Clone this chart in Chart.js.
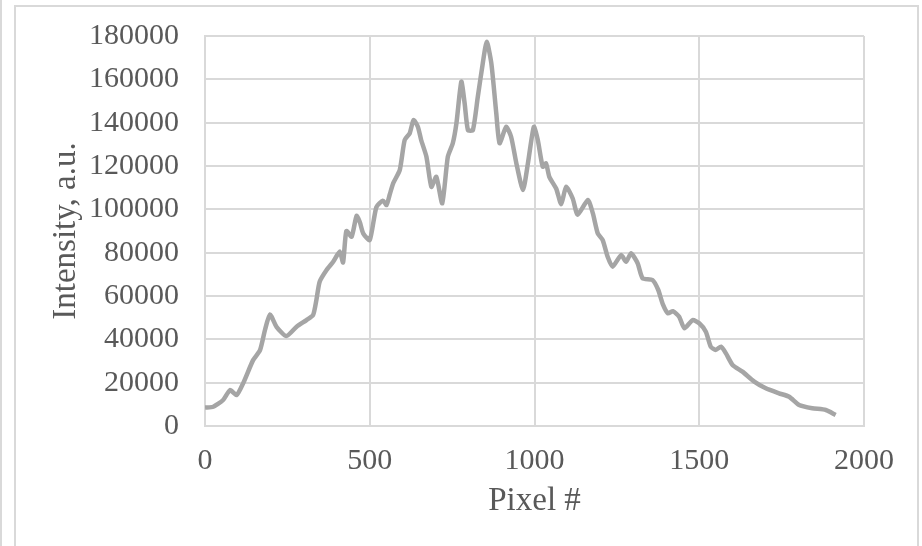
<!DOCTYPE html>
<html>
<head>
<meta charset="utf-8">
<script src="https://cdn.jsdelivr.net/npm/chart.js@4.4.1/dist/chart.umd.min.js"></script>
<style>
  body { margin: 0; background: #fff; }
  #wrap { position: relative; width: 922px; height: 546px; overflow: hidden; }
  #edge { position: absolute; left: 0; top: 0; width: 1px; height: 546px; border-left: 2px solid #d9d9d9; }
  #frame { position: absolute; left: 14px; top: 5px; width: 905px; height: 560px; border: 2px solid #d9d9d9; box-sizing: border-box; }
  #myChart { position: absolute; left: 0; top: 0; }
</style>
</head>
<body>
<div id="wrap">
  <div id="edge"></div>
  <div id="frame"></div>
  <canvas id="myChart" width="922" height="546"></canvas>
</div>
<script>
// pixel index along the sensor
var pixels = [0, 25, 55, 76, 96, 116, 146, 167, 182, 197,
    217, 247, 278, 308, 328, 338, 348, 369, 389, 409,
    419, 429, 445, 460, 470, 480, 500, 520, 540, 551,
    561, 571, 591, 606, 621, 633, 646, 656, 672, 687,
    702, 720, 737, 752, 763, 778, 788, 798, 813, 828,
    843, 855, 869, 884, 894, 914, 929, 945, 965, 980,
    998, 1010, 1025, 1035, 1045, 1066, 1081, 1096, 1116, 1131,
    1162, 1177, 1192, 1207, 1222, 1237, 1263, 1278, 1293, 1313,
    1328, 1358, 1375, 1390, 1405, 1420, 1439, 1455, 1480, 1500,
    1520, 1535, 1550, 1566, 1581, 1601, 1631, 1667, 1702, 1742,
    1773, 1803, 1843, 1884, 1914];
// intensity, a.u.
var intensity = [8500, 8900, 12000, 16600, 14300, 19800, 30400, 35000, 44300, 51500,
    45800, 41500, 45800, 48900, 51200, 58100, 66600, 72000, 75800, 80500,
    75500, 90000, 87400, 97000, 94000, 88900, 85800, 101000, 104000, 102000,
    107000, 112000, 118100, 132000, 135000, 141200, 138100, 132000, 124300, 110400,
    115000, 102800, 124300, 130500, 139700, 158900, 148900, 136600, 136600, 152000,
    167400, 177400, 167400, 144300, 130500, 138100, 133500, 121200, 108900, 121200,
    138100, 132000, 119700, 121200, 115000, 109500, 102400, 110400, 105000, 97500,
    104300, 98200, 88900, 85800, 78100, 73500, 78900, 75800, 79700, 75100,
    68200, 67400, 63000, 56000, 52000, 53000, 50400, 45100, 48900, 47400,
    43500, 36600, 35100, 36600, 33500, 28200, 25100, 20500, 17400, 15100,
    13500, 9700, 8200, 7400, 5100];
var xTicks = [0, 500, 1000, 1500, 2000];
var yTicks = [0, 20000, 40000, 60000, 80000, 100000, 120000, 140000, 160000, 180000];

var points = pixels.map(function (p, i) {
    return { x: p, y: intensity[i] };
});

var gridColor = '#d9d9d9';
var serif = "'Liberation Serif', 'Times New Roman', serif";
var tickFont = { family: serif, size: 30 };
var titleFont = { family: serif, size: 33 };
var plainNumber = function (v) { return String(v); };

var ctx = document.querySelector('#myChart').getContext('2d');
new Chart(ctx, {
    type: 'scatter',
    data: {
        datasets: [{
            label: 'Intensity',
            data: points,
            showLine: true,
            borderColor: '#a5a5a5',
            backgroundColor: '#a5a5a5',
            borderWidth: 4.5,
            pointRadius: 0,
            tension: 0.2
        }]
    },
    options: {
        responsive: false,
        animation: false,
        devicePixelRatio: 1,
        layout: { padding: { left: 0, top: 36, right: 58, bottom: 0 } },
        plugins: { legend: { display: false }, tooltip: { enabled: false } },
        scales: {
            x: {
                type: 'linear',
                min: xTicks[0],
                max: xTicks[xTicks.length - 1],
                afterBuildTicks: function (scale) {
                    scale.ticks = xTicks.map(function (v) { return { value: v }; });
                },
                afterFit: function (scale) { scale.height = 120; },
                grid: { color: gridColor, lineWidth: 2, drawTicks: false },
                border: { color: gridColor, width: 2 },
                ticks: { color: '#595959', font: tickFont, padding: 17, maxRotation: 0, callback: plainNumber },
                title: {
                    display: true,
                    text: 'Pixel #',
                    color: '#595959',
                    font: titleFont,
                    padding: { top: 4, bottom: 25 }
                }
            },
            y: {
                min: yTicks[0],
                max: yTicks[yTicks.length - 1],
                afterBuildTicks: function (scale) {
                    scale.ticks = yTicks.map(function (v) { return { value: v }; });
                },
                afterFit: function (scale) { scale.width = 205; },
                // invisible tick marks give the label gap without padding the plot top
                grid: { color: gridColor, lineWidth: 2, drawTicks: true, tickLength: 26, tickColor: 'rgba(0,0,0,0)' },
                border: { color: gridColor, width: 2 },
                ticks: { color: '#595959', font: tickFont, padding: 0, callback: plainNumber },
                title: {
                    display: true,
                    text: 'Intensity, a.u.',
                    color: '#595959',
                    font: titleFont,
                    padding: { top: 47, bottom: 0 }
                }
            }
        }
    }
});
</script>
</body>
</html>
